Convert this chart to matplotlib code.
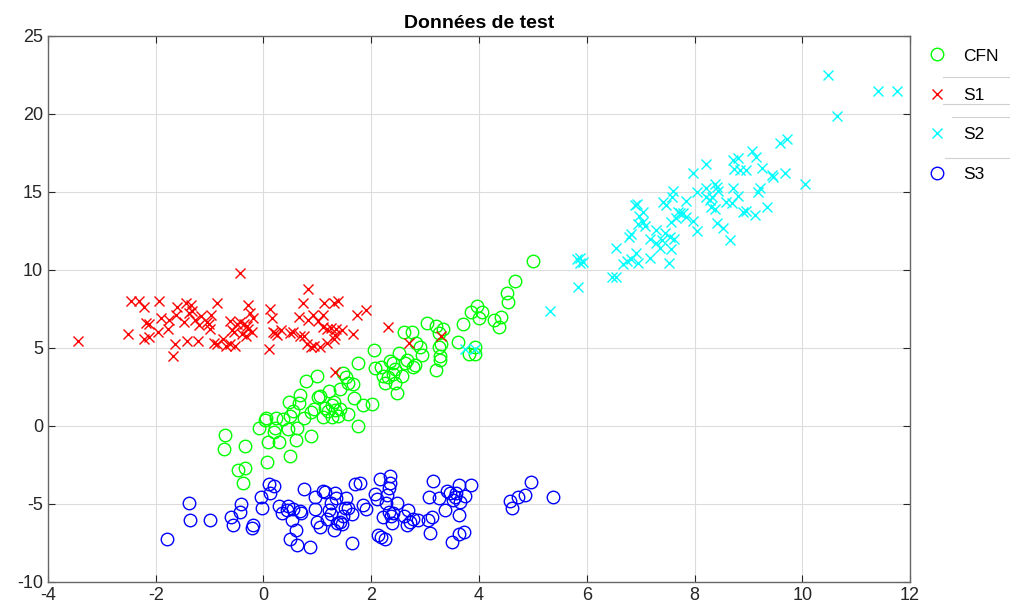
import matplotlib
matplotlib.use("Agg")
import matplotlib.pyplot as plt
from matplotlib.lines import Line2D

# CFN (green circles)
cfn_x = [-0.71, -0.74, -0.34, -0.47, -0.34, -0.38, -0.08, 0.03, 0.05, 0.23, 0.21, 0.20,
         0.09, 0.28, 0.06, 0.50, 0.60, 0.46, 0.63, 0.37, 0.50, 0.54, 0.48, 0.66, 0.68,
         0.75, 0.89, 0.78, 1.00, 0.89, 0.93, 1.02, 1.05, 1.11, 1.14, 1.20, 1.28, 1.30,
         1.33, 1.27, 1.39, 1.42, 1.57, 1.22, 1.42, 1.47, 1.56, 1.67, 1.68, 1.54, 1.76,
         1.85, 2.01, 1.76, 2.05, 2.07, 2.19, 2.22, 2.26, 2.32, 2.40, 2.44, 2.44, 2.35,
         2.52, 2.47, 2.41, 2.57, 2.63, 2.78, 2.81, 2.66, 2.61, 2.75, 2.91, 2.94, 2.84,
         3.04, 3.20, 3.25, 3.34, 3.29, 3.26, 3.27, 3.21, 3.27, 3.61, 3.71, 3.92, 3.82,
         3.92, 3.97, 3.85, 4.05, 4.00, 4.28, 4.40, 4.38, 4.52, 4.54, 4.67, 5.00]
cfn_y = [-0.58, -1.50, -1.28, -2.82, -2.71, -3.65, -0.15, 0.38, 0.49, 0.49, -0.15, -0.36,
         -1.00, -1.00, -2.29, -1.92, -0.90, -0.21, -0.15, 0.43, 0.64, 0.98, 1.56, 1.50, 1.99,
         0.49, -0.64, 2.91, 3.21, 0.92, 1.07, 1.84, 1.92, 0.56, 1.13, 0.98, 1.35, 1.56,
         1.03, 0.56, 0.64, 1.07, 0.77, 2.26, 2.35, 3.38, 2.78, 2.69, 1.77, 3.16, 0.00,
         1.35, 1.41, 4.06, 4.87, 3.70, 3.80, 3.21, 2.74, 3.16, 3.33, 3.63, 2.74, 4.19,
         4.70, 2.09, 4.02, 3.21, 4.06, 3.80, 3.91, 4.23, 6.05, 6.05, 5.09, 4.55, 5.30,
         6.62, 6.41, 5.98, 6.20, 5.26, 5.04, 4.23, 3.59, 4.49, 5.41, 6.54, 5.09, 4.62,
         4.62, 7.69, 7.33, 7.33, 6.90, 6.79, 6.97, 6.32, 8.50, 7.97, 9.32, 10.60]

# S1 (red crosses)
s1_x = [-3.45, -2.51, -2.45, -2.31, -2.21, -2.18, -2.13, -2.21, -2.12, -1.96, -1.94, -1.91,
        -1.78, -1.75, -1.65, -1.68, -1.61, -1.62, -1.47, -1.44, -1.35, -1.42, -1.38, -1.33,
        -1.21, -1.16, -1.19, -1.05, -1.01, -0.97, -1.00, -0.87, -0.92, -0.86, -0.76, -0.70,
        -0.62, -0.53, -0.63, -0.59, -0.50, -0.44, -0.37, -0.40, -0.32, -0.28, -0.22, -0.19,
        -0.25, -0.28, -0.44, 0.12, 0.16, 0.18, 0.26, 0.32, 0.11, 0.50, 0.65, 0.68, 0.75,
        0.74, 0.83, 0.80, 0.89, 0.94, 0.83, 0.91, 1.02, 1.10, 1.13, 1.11, 1.18, 1.25, 1.34,
        1.31, 1.39, 1.45, 1.32, 1.30, 1.18, 1.67, 1.74, 1.91, 2.32, 1.32, 2.70, 3.29,
        -0.30, -0.55, 0.22, -1.28, 1.05, 0.55]
s1_y = [5.45, 5.90, 8.01, 8.01, 7.61, 6.58, 6.54, 5.56, 5.68, 6.00, 8.03, 6.90,
        6.22, 6.79, 5.26, 4.49, 7.61, 7.12, 6.69, 7.91, 7.76, 5.45, 7.22, 7.39,
        5.47, 7.07, 6.47, 6.69, 6.54, 7.12, 6.22, 7.91, 5.30, 5.24, 5.56, 5.13,
        5.24, 5.13, 6.75, 6.15, 6.54, 6.69, 6.54, 5.90, 5.77, 6.20, 6.05, 6.90,
        7.26, 7.76, 9.83, 7.48, 6.90, 6.05, 5.83, 6.15, 4.91, 5.98, 6.97, 5.77, 5.77,
        7.91, 8.76, 5.24, 5.04, 5.13, 6.79, 7.12, 6.75, 7.12, 7.91, 6.37, 6.20, 6.26, 6.20,
        7.91, 8.03, 6.15, 5.83, 5.56, 5.30, 5.90, 7.12, 7.44, 6.32, 3.48, 5.34, 5.77,
        6.40, 6.00, 5.95, 6.80, 5.05, 6.05]

# S2 (cyan crosses)
s2_x = [5.31, 5.84, 5.82, 5.87, 5.93, 5.88, 6.46, 6.54, 6.55, 6.68, 6.75, 6.83, 6.91, 6.96,
        6.79, 6.83, 6.89, 6.93, 6.97, 7.04, 6.95, 7.05, 7.08, 7.17, 7.28, 7.18, 7.29, 7.39,
        7.36, 7.45, 7.54, 7.57, 7.62, 7.53, 7.42, 7.48, 7.60, 7.59, 7.57, 7.66, 7.70, 7.74,
        7.79, 7.85, 7.98, 8.04, 7.84, 7.98, 8.22, 8.04, 8.22, 8.21, 8.28, 8.33, 8.38, 8.41,
        8.44, 8.31, 8.38, 8.41, 8.52, 8.65, 8.59, 8.72, 8.81, 8.69, 8.72, 8.81, 8.73, 8.85,
        8.95, 9.06, 9.15, 8.90, 8.95, 9.12, 9.34, 9.18, 9.21, 9.26, 9.43, 9.46, 9.59, 9.71,
        9.68, 10.05, 10.48, 11.40, 11.75, 10.65, 3.74, 3.92]
s2_y = [7.39, 8.89, 10.70, 10.44, 10.48, 10.80, 9.53, 9.53, 11.43, 10.38, 10.60, 10.68, 11.11, 10.43,
        12.14, 12.31, 14.17, 14.23, 13.46, 13.74, 12.95, 13.10, 12.82, 10.75, 12.56, 11.97, 11.75, 11.92,
        11.39, 12.35, 12.14, 11.32, 11.97, 10.43, 14.38, 14.17, 15.09, 14.66, 13.10, 13.31, 13.74, 13.68,
        13.63, 13.42, 13.16, 12.52, 14.44, 16.24, 16.79, 15.02, 15.24, 14.66, 14.49, 14.70, 15.51, 15.34,
        15.09, 14.06, 13.89, 13.03, 12.67, 11.92, 14.38, 15.24, 14.74, 14.32, 17.05, 17.16, 16.45, 16.41,
        16.41, 17.65, 17.22, 13.74, 13.80, 13.53, 14.02, 15.02, 15.24, 16.52, 16.09, 15.94, 18.16, 18.38,
        16.24, 15.51, 22.50, 21.50, 21.50, 19.90, 4.92, 4.92]

# S3 (blue circles)
s3_x = [-1.80, -1.39, -1.36, -1.00, -0.61, -0.56, -0.44, -0.41, -0.22, -0.19, -0.03, -0.05,
        0.11, 0.19, 0.12, 0.29, 0.34, 0.43, 0.54, 0.53, 0.60, 0.49, 0.62, 0.68, 0.76, 0.86,
        0.96, 0.96, 0.99, 1.05, 1.10, 1.14, 1.17, 1.22, 1.26, 1.26, 1.30, 1.33, 1.36, 1.42,
        1.45, 1.48, 1.54, 1.57, 1.64, 1.64, 1.70, 1.79, 1.85, 1.51, 2.07, 2.10, 2.17, 2.35,
        2.35, 2.33, 2.27, 2.30, 2.33, 2.41, 2.36, 2.47, 2.22, 2.38, 2.19, 2.25, 2.13, 2.60,
        2.66, 2.69, 2.72, 2.78, 2.87, 3.06, 3.08, 3.15, 3.12, 3.09, 3.26, 3.37, 3.40, 3.46,
        3.55, 3.52, 3.58, 3.62, 3.65, 3.74, 3.86, 3.62, 3.49, 3.63, 3.72, 4.57, 4.62, 4.73,
        4.85, 4.96, 5.38, 0.45, 0.70, 1.35, 1.90]
s3_y = [-7.27, -4.91, -6.03, -6.03, -5.85, -6.35, -5.49, -5.00, -6.56, -6.35, -5.28, -4.57,
        -3.72, -3.85, -4.32, -5.13, -5.60, -5.38, -5.34, -6.03, -6.67, -7.27, -7.63, -5.43, -4.06, -7.74,
        -4.57, -5.34, -6.13, -6.45, -4.15, -4.21, -5.98, -5.38, -4.96, -5.64, -6.67, -4.32, -6.24, -6.13,
        -6.28, -5.77, -4.64, -5.28, -5.64, -7.48, -3.72, -3.63, -5.06, -5.28, -4.36, -4.70, -3.42, -3.18,
        -3.68, -3.95, -4.91, -4.42, -5.49, -5.60, -5.77, -4.96, -5.81, -6.24, -7.09, -7.27, -6.99, -5.77,
        -6.35, -5.38, -6.13, -5.98, -6.03, -6.03, -4.53, -3.53, -5.85, -6.88, -4.64, -5.39, -4.17, -4.32,
        -4.53, -4.74, -4.32, -3.78, -4.85, -4.47, -3.78, -5.71, -7.46, -6.95, -6.77, -4.81, -5.28, -4.53,
        -4.42, -3.57, -4.53, -5.10, -5.60, -4.60, -5.30]

labels = ["CFN", "S1", "S2", "S3"]

plt.rcParams['font.family'] = ['Liberation Sans', 'DejaVu Sans']
plt.rcParams['axes.unicode_minus'] = False

fig = plt.figure(figsize=(10.10, 6.13), dpi=100)
ax = fig.add_axes([0.0475, 0.0506, 0.8535, 0.8907])

ax.plot(cfn_x, cfn_y, ls='none', marker='o', ms=9, mfc='none', mec='#00FF00', mew=1.0, label=labels[0])
ax.plot(s1_x, s1_y, ls='none', marker='x', ms=7, mec='#FF0000', mew=1.0, label=labels[1])
ax.plot(s2_x, s2_y, ls='none', marker='x', ms=7, mec='#00FFFF', mew=1.0, label=labels[2])
ax.plot(s3_x, s3_y, ls='none', marker='o', ms=9, mfc='none', mec='#0000FF', mew=1.0, label=labels[3])

ax.set_xlim(-4, 12)
ax.set_ylim(-10, 25)
ax.set_xticks(range(-4, 13, 2))
ax.set_yticks(range(-10, 26, 5))
ax.grid(True, color='#dcdcdc', lw=0.8)
ax.set_axisbelow(True)
ax.tick_params(direction='in', length=5, labelsize=13, colors='#262626',
               top=True, right=True, labeltop=False, labelright=False)
for s in ax.spines.values():
    s.set_color('#666666')
    s.set_linewidth(1.0)
ax.set_title("Données de test", fontsize=14, fontweight='bold', pad=6)

leg = ax.legend(loc='upper left', bbox_to_anchor=(1.013, 0.99), frameon=False,
                fontsize=12.5, handlelength=1.0, handletextpad=1.0,
                labelspacing=1.4, borderaxespad=0)

# thin separators as in the reference legend
for y0, x0 in [(77, 943), (104, 943), (117, 952), (158, 945)]:
    fig.add_artist(Line2D([x0 / 1010, 1.0], [1 - y0 / 613, 1 - y0 / 613],
                          color='#d0d0d0', lw=0.8))

fig.savefig("out.png", dpi=100)
